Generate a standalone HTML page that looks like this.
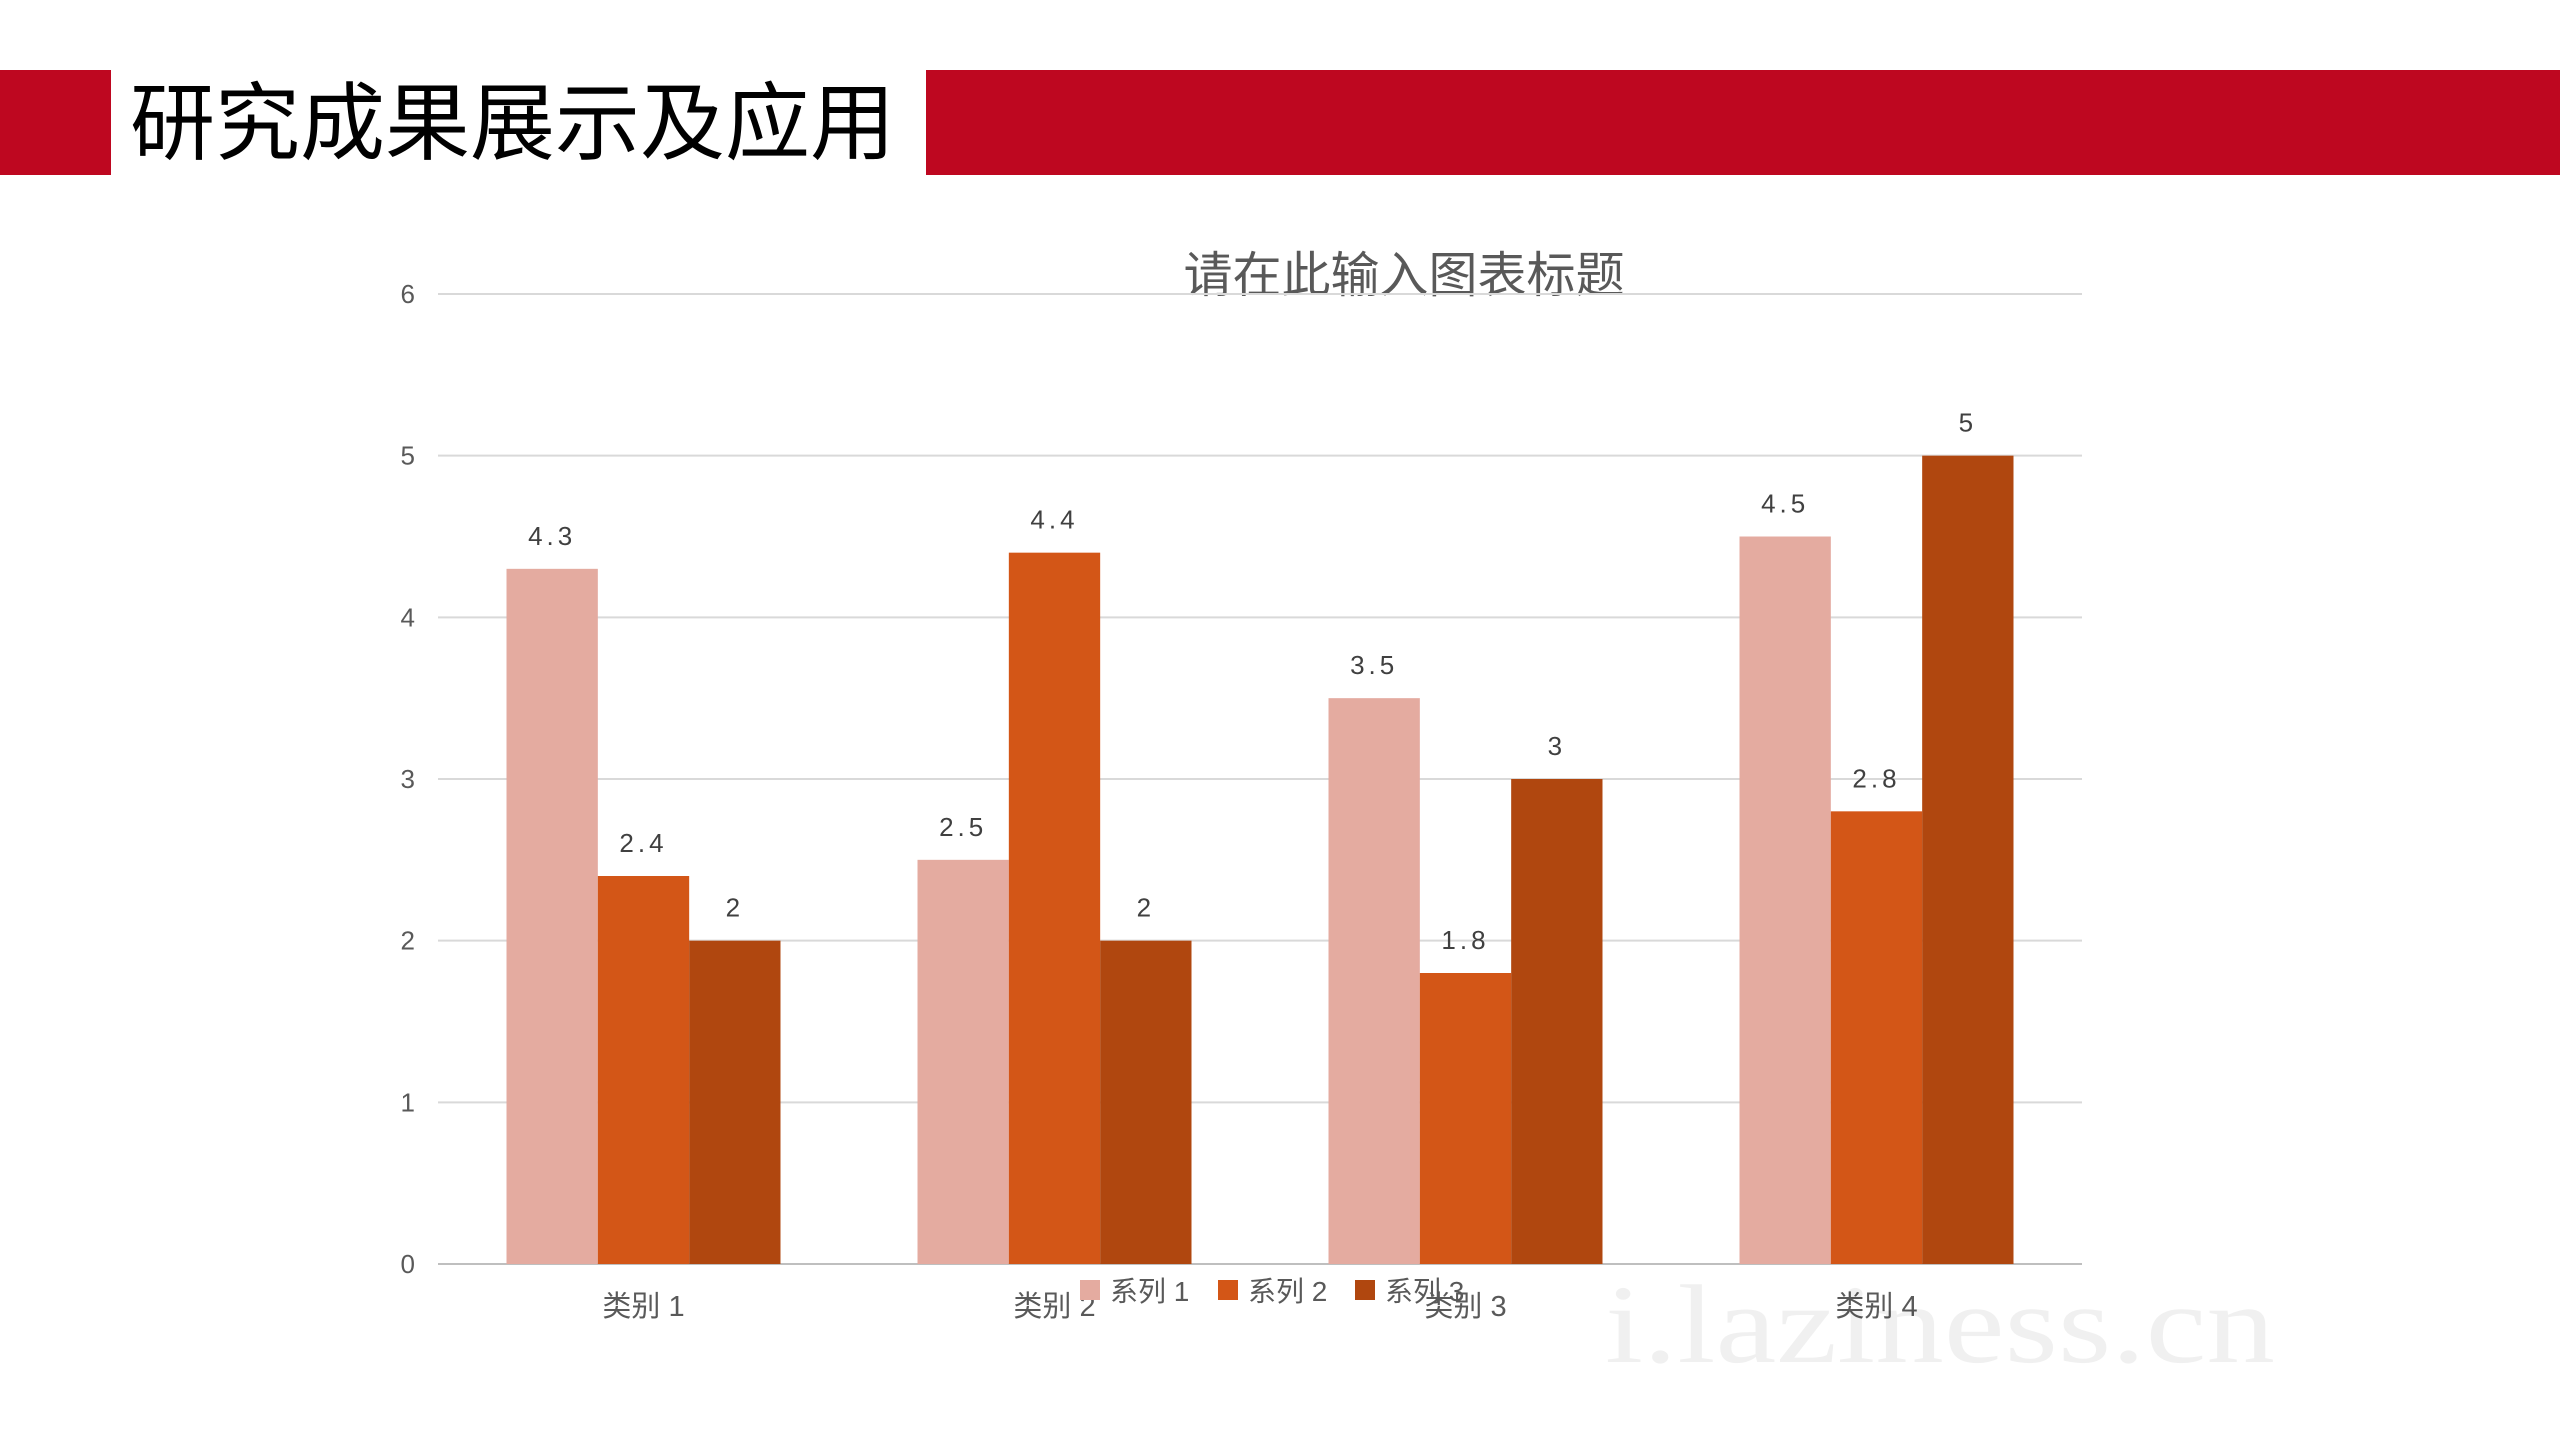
<!DOCTYPE html>
<html><head><meta charset="utf-8"><style>
html,body{margin:0;padding:0;background:#fff;}
svg{display:block;}
text{font-family:"Liberation Sans","Noto Sans CJK SC",sans-serif;}
</style></head><body>
<svg id="c" width="2560" height="1440" viewBox="0 0 2560 1440">
<rect x="0" y="70" width="111" height="105" fill="#BE0720"/>
<rect x="926" y="70" width="1634" height="105" fill="#BE0720"/>
<text x="130" y="153" font-size="85" fill="#000">研究成果展示及应用</text>
<text x="1404" y="292" font-size="49" fill="#595959" text-anchor="middle">请在此输入图表标题</text>
<g id="grid"></g><g id="bars"></g><g id="labels"></g>
<g font-size="28" fill="#595959">
<rect x="1080" y="1280" width="20" height="20" fill="#E4ABA0"/>
<text x="1110" y="1301">系列 1</text>
<rect x="1218" y="1280" width="20" height="20" fill="#D35617"/>
<text x="1248" y="1301">系列 2</text>
<rect x="1355" y="1280" width="20" height="20" fill="#B0470F"/>
<text x="1385" y="1301">系列 3</text>
</g>
<text x="1605" y="1362" font-size="112" textLength="670" lengthAdjust="spacingAndGlyphs" fill="#000" fill-opacity="0.06" style="font-family:'Liberation Serif',serif">i.laziness.cn</text>
</svg>
<script>
const categories=["类别 1","类别 2","类别 3","类别 4"];
const series1=[4.3,2.5,3.5,4.5];
const series2=[2.4,4.4,1.8,2.8];
const series3=[2,2,3,5];
const yTicks=[0,1,2,3,4,5,6];
const NS="http://www.w3.org/2000/svg";
const x0=438,x1=2082,y0=1264,y6=294;
const colors=["#E4ABA0","#D35617","#B0470F"];
function yS(v){return y0-(v/6)*(y0-y6);}
const cw=(x1-x0)/categories.length, bw=cw/4.5;
function xS(ci,si){return x0+ci*cw+cw/6+si*bw;}
function mk(t,a,p,txt){const e=document.createElementNS(NS,t);for(const k in a)e.setAttribute(k,a[k]);if(txt!==undefined)e.textContent=txt;p.appendChild(e);return e;}
const g=document.getElementById('grid'),b=document.getElementById('bars'),l=document.getElementById('labels');
yTicks.forEach(t=>{
 const ln=mk('line',{x1:x0,x2:x1,y1:yS(t),y2:yS(t),stroke:t===0?'#BFBFBF':'#D9D9D9','stroke-width':2},g);
 
 
 const tx=mk('text',{x:415,y:yS(t)+9,'font-size':26,fill:'#595959','text-anchor':'end'},g,String(t));
 
 
});
const all=[series1,series2,series3];
categories.forEach((c,ci)=>{
 all.forEach((s,si)=>{
  const v=s[ci],x=xS(ci,si);
  const r=mk('rect',{x:x,y:yS(v),width:bw,height:y0-yS(v),fill:colors[si]},b);
  
  
  const t=mk('text',{x:x+bw/2,y:yS(v)-24,'font-size':26,fill:'#404040','text-anchor':'middle','letter-spacing':4},l,String(v));
  
  
 });
 const ct=mk('text',{x:x0+ci*cw+cw/2,y:1316,'font-size':29,fill:'#595959','text-anchor':'middle'},l,c);
 
 
});
</script>
</body></html>
